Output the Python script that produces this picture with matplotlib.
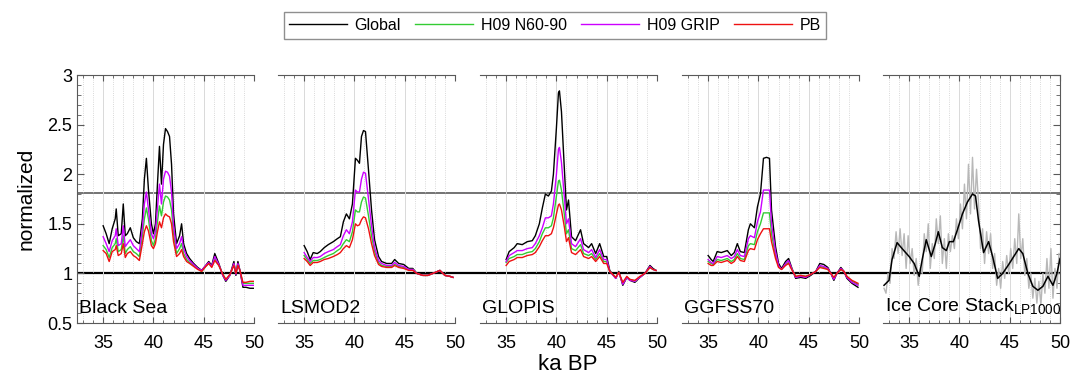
import numpy as np
import matplotlib
matplotlib.use("Agg")
import matplotlib.pyplot as plt
from matplotlib.ticker import MultipleLocator, FuncFormatter

plt.rcParams["font.family"] = ["Liberation Sans", "DejaVu Sans"]
plt.rcParams["mathtext.fontset"] = "custom"
plt.rcParams["mathtext.rm"] = "Liberation Sans"

# ---- data (ka BP, normalized) ----
series_names = ["Global", "H09 N60-90", "H09 GRIP", "PB"]
series_colors = ["black", "#33cc33", "#cc00ff", "#ee1111"]

bs_x = [35.0, 35.3, 35.6, 35.9, 36.2, 36.3, 36.5, 36.8, 37.0, 37.2, 37.4, 37.7, 38.0, 38.3,
        38.6, 38.9, 39.1, 39.3, 39.5, 39.8, 40.0, 40.2, 40.4, 40.6, 40.8, 41.0, 41.2, 41.4,
        41.6, 41.8, 42.0, 42.3, 42.6, 42.8, 43.0, 43.3, 43.6, 44.0, 44.4, 44.8, 45.2, 45.5,
        45.8, 46.1, 46.5, 46.9, 47.2, 47.6, 48.0, 48.2, 48.4, 48.6, 48.9, 49.2, 49.6, 50.0]
bs_global = [1.48, 1.40, 1.30, 1.45, 1.55, 1.65, 1.38, 1.40, 1.70, 1.38, 1.40, 1.46, 1.36, 1.32,
             1.30, 1.55, 1.95, 2.16, 1.85, 1.50, 1.40, 1.50, 1.90, 2.28, 1.90, 2.30, 2.46, 2.43,
             2.38, 2.10, 1.60, 1.30, 1.38, 1.50, 1.30, 1.20, 1.15, 1.10, 1.06, 1.03, 1.08, 1.12,
             1.08, 1.20, 1.10, 0.98, 0.92, 0.98, 1.12, 0.98, 1.12, 1.03, 0.86, 0.86, 0.85, 0.85]
bs_n6090 = [1.28, 1.24, 1.16, 1.26, 1.30, 1.35, 1.22, 1.24, 1.38, 1.20, 1.24, 1.27, 1.22, 1.20,
            1.17, 1.38, 1.55, 1.66, 1.55, 1.33, 1.28, 1.35, 1.52, 1.68, 1.58, 1.72, 1.78, 1.77,
            1.74, 1.64, 1.40, 1.20, 1.25, 1.30, 1.20, 1.14, 1.11, 1.08, 1.05, 1.02, 1.07, 1.10,
            1.07, 1.15, 1.08, 0.99, 0.94, 0.98, 1.09, 1.00, 1.09, 1.03, 0.90, 0.90, 0.90, 0.90]
bs_grip = [1.37, 1.30, 1.22, 1.33, 1.38, 1.45, 1.28, 1.30, 1.48, 1.27, 1.30, 1.34, 1.28, 1.25,
           1.22, 1.45, 1.70, 1.82, 1.65, 1.40, 1.35, 1.42, 1.66, 1.90, 1.70, 1.95, 2.03, 2.02,
           1.98, 1.82, 1.48, 1.25, 1.30, 1.37, 1.25, 1.17, 1.13, 1.09, 1.05, 1.03, 1.08, 1.11,
           1.07, 1.17, 1.09, 0.98, 0.93, 0.98, 1.10, 0.99, 1.10, 1.03, 0.88, 0.88, 0.88, 0.88]
bs_pb = [1.23, 1.20, 1.12, 1.22, 1.24, 1.28, 1.18, 1.20, 1.30, 1.16, 1.20, 1.22, 1.18, 1.16,
         1.13, 1.30, 1.42, 1.48, 1.43, 1.28, 1.25, 1.30, 1.42, 1.52, 1.46, 1.56, 1.60, 1.58,
         1.57, 1.50, 1.32, 1.17, 1.20, 1.24, 1.17, 1.12, 1.10, 1.07, 1.04, 1.02, 1.07, 1.10,
         1.06, 1.13, 1.08, 0.99, 0.94, 0.99, 1.08, 1.00, 1.08, 1.03, 0.91, 0.91, 0.92, 0.92]

ls_x = [35.0, 35.3, 35.6, 35.9, 36.3, 36.6, 37.0, 37.4, 37.9, 38.3, 38.6, 38.9, 39.2, 39.5,
        39.8, 40.1, 40.3, 40.5, 40.7, 40.9, 41.1, 41.4, 41.7, 42.0, 42.4, 42.7, 43.2, 43.7,
        44.0, 44.4, 44.9, 45.4, 45.8, 46.2, 46.8, 47.3, 47.8, 48.5, 49.0, 49.5, 49.8]
ls_global = [1.28, 1.22, 1.14, 1.21, 1.20, 1.22, 1.26, 1.29, 1.32, 1.35, 1.37, 1.52, 1.60, 1.55,
             1.70, 2.16, 2.14, 2.11, 2.38, 2.44, 2.43, 2.04, 1.64, 1.34, 1.17, 1.12, 1.10, 1.10,
             1.14, 1.10, 1.09, 1.05, 1.05, 1.00, 0.98, 0.98, 1.00, 1.03, 0.98, 0.97, 0.96]
ls_n6090 = [1.18, 1.14, 1.10, 1.13, 1.13, 1.14, 1.16, 1.18, 1.20, 1.23, 1.25, 1.30, 1.34, 1.32,
            1.42, 1.64, 1.62, 1.62, 1.72, 1.77, 1.76, 1.58, 1.38, 1.22, 1.11, 1.08, 1.07, 1.07,
            1.09, 1.07, 1.06, 1.04, 1.04, 1.00, 0.98, 0.98, 1.00, 1.03, 0.98, 0.97, 0.96]
ls_grip = [1.21, 1.16, 1.12, 1.16, 1.16, 1.17, 1.20, 1.22, 1.24, 1.27, 1.29, 1.38, 1.44, 1.40,
           1.52, 1.84, 1.82, 1.82, 1.95, 2.02, 2.01, 1.75, 1.48, 1.26, 1.13, 1.10, 1.08, 1.08,
           1.11, 1.08, 1.07, 1.04, 1.04, 1.00, 0.98, 0.98, 1.00, 1.03, 0.98, 0.97, 0.96]
ls_pb = [1.15, 1.12, 1.08, 1.11, 1.11, 1.12, 1.14, 1.15, 1.17, 1.19, 1.21, 1.25, 1.28, 1.26,
         1.34, 1.50, 1.48, 1.49, 1.54, 1.57, 1.56, 1.45, 1.30, 1.18, 1.09, 1.07, 1.06, 1.06,
         1.08, 1.06, 1.05, 1.03, 1.03, 1.00, 0.98, 0.98, 1.00, 1.03, 0.98, 0.97, 0.96]

gl_x = [35.0, 35.3, 35.8, 36.1, 36.6, 37.1, 37.6, 37.9, 38.3, 38.6, 38.9, 39.2, 39.5, 39.7,
        40.0, 40.2, 40.3, 40.5, 40.8, 41.0, 41.2, 41.5, 41.9, 42.4, 42.7, 43.2, 43.5, 43.9,
        44.3, 44.7, 45.0, 45.3, 45.9, 46.2, 46.6, 47.0, 47.3, 47.8, 48.3, 48.8, 49.3, 49.6, 49.9]
gl_global = [1.14, 1.22, 1.26, 1.30, 1.29, 1.32, 1.33, 1.38, 1.50, 1.66, 1.80, 1.78, 1.83, 2.00,
             2.47, 2.82, 2.84, 2.63, 2.03, 1.64, 1.74, 1.37, 1.33, 1.44, 1.30, 1.26, 1.30, 1.20,
             1.30, 1.17, 1.17, 1.03, 0.95, 1.02, 0.88, 0.96, 0.93, 0.91, 0.96, 1.00, 1.08, 1.05, 1.03]
gl_n6090 = [1.11, 1.15, 1.17, 1.19, 1.19, 1.21, 1.22, 1.25, 1.32, 1.40, 1.46, 1.46, 1.48, 1.56,
            1.78, 1.93, 1.94, 1.84, 1.58, 1.40, 1.44, 1.25, 1.23, 1.29, 1.20, 1.18, 1.20, 1.14,
            1.20, 1.12, 1.12, 1.02, 0.96, 1.01, 0.90, 0.96, 0.94, 0.92, 0.96, 1.00, 1.06, 1.04, 1.03]
gl_grip = [1.12, 1.18, 1.21, 1.23, 1.23, 1.25, 1.26, 1.30, 1.38, 1.46, 1.56, 1.56, 1.58, 1.70,
           2.00, 2.25, 2.27, 2.12, 1.75, 1.50, 1.55, 1.30, 1.27, 1.35, 1.24, 1.21, 1.24, 1.16,
           1.24, 1.14, 1.14, 1.02, 0.95, 1.01, 0.89, 0.96, 0.93, 0.92, 0.96, 1.00, 1.07, 1.04, 1.03]
gl_pb = [1.08, 1.12, 1.14, 1.16, 1.16, 1.18, 1.19, 1.21, 1.27, 1.33, 1.38, 1.38, 1.40, 1.46,
         1.60, 1.69, 1.70, 1.64, 1.46, 1.32, 1.36, 1.21, 1.19, 1.24, 1.17, 1.15, 1.17, 1.12,
         1.17, 1.10, 1.10, 1.02, 0.96, 1.01, 0.91, 0.97, 0.94, 0.93, 0.97, 1.00, 1.06, 1.04, 1.03]

gg_x = [35.0, 35.3, 35.5, 35.9, 36.3, 36.6, 36.9, 37.3, 37.6, 37.9, 38.2, 38.6, 39.0, 39.2,
        39.6, 39.9, 40.2, 40.5, 40.8, 41.1, 41.3, 41.7, 42.0, 42.3, 42.7, 43.0, 43.3, 43.7,
        44.2, 44.7, 45.2, 45.7, 46.1, 46.5, 46.9, 47.2, 47.5, 47.8, 48.2, 48.5, 48.8, 49.3, 49.9]
gg_global = [1.18, 1.14, 1.12, 1.22, 1.21, 1.22, 1.23, 1.18, 1.21, 1.30, 1.22, 1.21, 1.44, 1.50,
             1.46, 1.67, 1.80, 2.16, 2.17, 2.16, 1.64, 1.27, 1.10, 1.05, 1.12, 1.15, 1.06, 0.95,
             0.96, 0.95, 0.98, 1.02, 1.10, 1.09, 1.06, 1.00, 0.93, 1.00, 1.06, 1.02, 0.95, 0.90, 0.86]
gg_n6090 = [1.12, 1.10, 1.09, 1.14, 1.13, 1.14, 1.15, 1.12, 1.14, 1.20, 1.15, 1.14, 1.28, 1.30,
            1.29, 1.42, 1.50, 1.61, 1.61, 1.61, 1.40, 1.18, 1.07, 1.04, 1.09, 1.11, 1.05, 0.97,
            0.98, 0.97, 0.99, 1.02, 1.07, 1.06, 1.04, 1.00, 0.95, 1.00, 1.04, 1.02, 0.97, 0.92, 0.89]
gg_grip = [1.14, 1.11, 1.10, 1.17, 1.16, 1.17, 1.18, 1.15, 1.17, 1.24, 1.18, 1.17, 1.35, 1.38,
           1.36, 1.52, 1.62, 1.84, 1.84, 1.84, 1.50, 1.22, 1.08, 1.04, 1.10, 1.13, 1.05, 0.96,
           0.97, 0.96, 0.99, 1.02, 1.08, 1.07, 1.05, 1.00, 0.94, 1.00, 1.05, 1.02, 0.96, 0.91, 0.88]
gg_pb = [1.10, 1.08, 1.08, 1.12, 1.11, 1.12, 1.13, 1.10, 1.12, 1.17, 1.13, 1.12, 1.23, 1.25,
         1.24, 1.34, 1.40, 1.45, 1.45, 1.45, 1.32, 1.15, 1.06, 1.04, 1.08, 1.10, 1.04, 0.97,
         0.98, 0.97, 0.99, 1.02, 1.06, 1.05, 1.04, 1.00, 0.96, 1.00, 1.04, 1.02, 0.97, 0.93, 0.90]

# ice core stack: raw (grey) and LP1000 filtered (black)
ice_raw_x = [32.5, 32.7, 32.9, 33.1, 33.3, 33.5, 33.7, 33.9, 34.1, 34.3, 34.5, 34.7, 34.9, 35.1,
             35.3, 35.5, 35.7, 35.9, 36.1, 36.3, 36.5, 36.7, 36.9, 37.1, 37.3, 37.5, 37.7, 37.9,
             38.1, 38.3, 38.5, 38.7, 38.9, 39.1, 39.3, 39.5, 39.7, 39.9, 40.1, 40.3, 40.5, 40.7,
             40.9, 41.1, 41.3, 41.5, 41.7, 41.9, 42.1, 42.3, 42.5, 42.7, 42.9, 43.1, 43.3, 43.5,
             43.7, 43.9, 44.1, 44.3, 44.5, 44.7, 44.9, 45.1, 45.3, 45.5, 45.7, 45.9, 46.1, 46.3,
             46.5, 46.7, 46.9, 47.1, 47.3, 47.5, 47.7, 47.9, 48.1, 48.3, 48.5, 48.7, 48.9, 49.1,
             49.3, 49.5, 49.7, 49.9]
ice_raw = [0.85, 0.80, 1.00, 0.90, 1.25, 1.15, 1.42, 1.20, 1.45, 1.18, 1.40, 1.05, 1.38, 1.10,
           1.25, 0.98, 1.15, 0.88, 1.05, 1.00, 1.40, 1.22, 1.50, 1.05, 1.30, 1.15, 1.55, 1.30,
           1.58, 1.10, 1.35, 1.05, 1.40, 1.22, 1.38, 1.25, 1.55, 1.35, 1.70, 1.45, 1.90, 1.55,
           2.10, 1.60, 2.17, 1.65, 2.05, 1.70, 1.25, 1.45, 1.10, 1.42, 1.20, 1.40, 1.05, 1.20,
           0.88, 1.05, 0.85, 1.12, 0.95, 1.18, 1.00, 1.25, 1.05, 1.35, 1.10, 1.60, 1.15, 1.35,
           0.98, 1.15, 0.85, 1.00, 0.75, 0.95, 0.70, 0.92, 0.68, 1.00, 0.80, 1.15, 0.85, 1.25,
           0.75, 1.05, 0.85, 1.20]
ice_lp_x = [32.5, 33.0, 33.3, 33.8, 34.3, 35.0, 35.5, 36.0, 36.3, 36.7, 37.2, 37.6, 37.9, 38.3,
            38.7, 39.0, 39.4, 39.8, 40.3, 40.8, 41.3, 41.6, 41.9, 42.4, 42.9, 43.3, 43.8, 44.3,
            44.9, 45.4, 45.9, 46.3, 46.8, 47.3, 47.8, 48.3, 48.8, 49.3, 49.7, 50.0]
ice_lp = [0.88, 0.93, 1.14, 1.31, 1.25, 1.17, 1.10, 0.97, 1.14, 1.34, 1.17, 1.30, 1.42, 1.26,
          1.23, 1.32, 1.32, 1.44, 1.60, 1.72, 1.80, 1.78, 1.53, 1.21, 1.32, 1.17, 0.95, 1.00,
          1.09, 1.17, 1.25, 1.20, 1.00, 0.87, 0.83, 0.87, 0.97, 0.88, 1.00, 1.15]

panels = [
    ("Black Sea", bs_x, [bs_global, bs_n6090, bs_grip, bs_pb]),
    ("LSMOD2", ls_x, [ls_global, ls_n6090, ls_grip, ls_pb]),
    ("GLOPIS", gl_x, [gl_global, gl_n6090, gl_grip, gl_pb]),
    ("GGFSS70", gg_x, [gg_global, gg_n6090, gg_grip, gg_pb]),
]
ref_levels = [1.0, 1.81]

# ---- figure ----
fig = plt.figure(figsize=(10.87, 3.73), dpi=100)
W, H = 1087.0, 373.0
lefts = [77, 278, 480, 682, 883]
pw = 177
bottom, top = 50 / H, 298 / H

# background axes carries the reference lines across all panels
bg = fig.add_axes([lefts[0] / W, bottom, (lefts[-1] + pw - lefts[0]) / W, top - bottom])
bg.set_ylim(0.5, 3)
bg.axis("off")
bg.axhline(ref_levels[0], color="black", lw=1.6)
bg.axhline(ref_levels[1], color="0.3", lw=1.1)

spine_c = "0.35"
axes = []
for i, left in enumerate(lefts):
    ax = fig.add_axes([left / W, bottom, pw / W, top - bottom])
    ax.set_facecolor("none")
    ax.set_xlim(32.4, 50)
    ax.set_ylim(0.5, 3)
    ax.set_xticks([35, 40, 45, 50])
    ax.xaxis.set_minor_locator(MultipleLocator(1))
    ax.grid(axis="x", which="major", color="0.85", lw=0.7)
    ax.grid(axis="x", which="minor", color="0.8", lw=0.6, ls=":")
    ax.tick_params(axis="x", which="both", direction="in", top=True, bottom=True,
                   colors=spine_c, labelcolor="black", labelsize=13, pad=9)
    ax.tick_params(axis="x", which="major", length=4)
    ax.tick_params(axis="x", which="minor", length=2.5)
    ax.set_axisbelow(True)
    for s in ax.spines.values():
        s.set_color(spine_c)
    ax.spines["left"].set_visible(i == 0)
    ax.spines["right"].set_visible(i == 4)
    ax.yaxis.set_major_locator(MultipleLocator(0.5))
    ax.yaxis.set_minor_locator(MultipleLocator(0.1))
    if i == 0:
        ax.tick_params(axis="y", which="both", direction="in", left=True, right=False,
                       colors=spine_c, labelcolor="black", labelsize=13)
        ax.yaxis.set_major_formatter(FuncFormatter(lambda v, p: f"{v:g}"))
        ax.set_ylabel("normalized", fontsize=15, labelpad=8)
    elif i == 4:
        ax.tick_params(axis="y", which="both", direction="in", left=False, right=True,
                       labelleft=False, colors=spine_c)
    else:
        ax.tick_params(axis="y", which="both", left=False, right=False, labelleft=False)
    ax.tick_params(axis="y", which="major", length=5)
    ax.tick_params(axis="y", which="minor", length=3)
    axes.append(ax)

handles = []
for ax, (name, x, ys) in zip(axes[:4], panels):
    for y, c, lab in zip(ys, series_colors, series_names):
        ln, = ax.plot(x, y, color=c, lw=1.0, label=lab)
        if ax is axes[0]:
            handles.append(ln)
    ax.text(32.6, 0.56, name, fontsize=14, ha="left", va="bottom")

ax5 = axes[4]
ax5.plot(ice_raw_x, ice_raw, color="0.72", lw=1.0)
ax5.plot(ice_lp_x, ice_lp, color="black", lw=1.1)
ax5.text(32.6, 0.56, r"Ice Core Stack$_{\mathrm{LP1000}}$", fontsize=14, ha="left", va="bottom")

fig.text(568 / W, 1 - 364 / H, "ka BP", fontsize=16, ha="center", va="center")

leg = fig.legend(handles=handles, loc="center", bbox_to_anchor=(555 / W, 1 - 25.5 / H), ncol=4,
                 fontsize=11.5, frameon=True, fancybox=False, edgecolor="0.45",
                 handlelength=3.6, columnspacing=0.9, handletextpad=0.5, borderpad=0.35)
leg.get_frame().set_linewidth(1.0)

fig.savefig("out.png", dpi=100)
